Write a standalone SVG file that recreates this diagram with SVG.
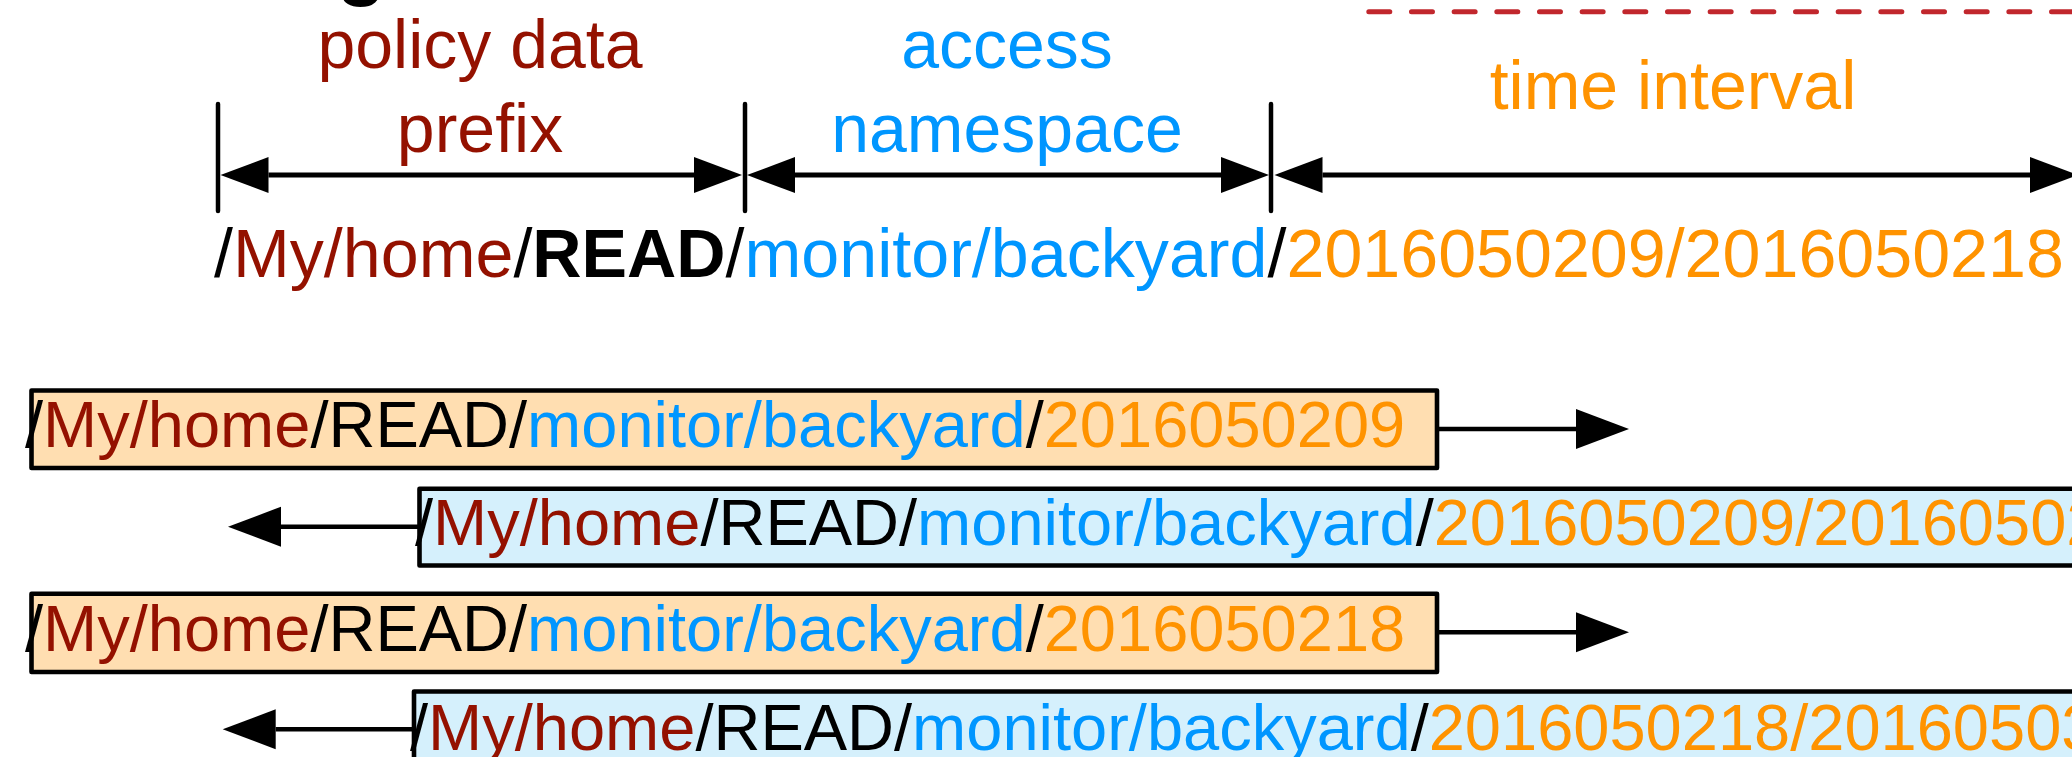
<svg xmlns="http://www.w3.org/2000/svg" width="2072" height="757" viewBox="0 0 2072 757">
  <defs>
    <marker id="dimHead" markerUnits="userSpaceOnUse" markerWidth="48" markerHeight="36" refX="0" refY="18" orient="auto-start-reverse" overflow="visible">
      <path d="M0,0 L48,18 L0,36 Z" fill="#000"/>
    </marker>
    <marker id="flowHead" markerUnits="userSpaceOnUse" markerWidth="53" markerHeight="40" refX="0" refY="20" orient="auto" overflow="visible">
      <path d="M0,0 L53,20 L0,40 Z" fill="#000"/>
    </marker>
    <style>
      text { font-family: "Liberation Sans", Arial, Helvetica, sans-serif; }
      .lbl { font-size: 68px; text-anchor: middle; }
      .path { font-size: 68.2px; }
      .bpath { font-size: 65px; }
      .red { fill: #941100; }
      .blue { fill: #0096FF; }
      .orange { fill: #FF9300; }
      .blk { fill: #000; }
      .tick { stroke: #000; stroke-width: 4.5; stroke-linecap: round; fill: none; }
      .dim { stroke: #000; stroke-width: 5; fill: none; marker-start: url(#dimHead); marker-end: url(#dimHead); }
      .flow { stroke: #000; stroke-width: 4.5; fill: none; marker-end: url(#flowHead); }
      .boxO { fill: #FFDEB1; stroke: #000; stroke-width: 4.6; stroke-linejoin: round; }
      .boxB { fill: #D5F0FC; stroke: #000; stroke-width: 4.6; stroke-linejoin: round; }
      .dash { stroke: #C1272D; stroke-width: 5; stroke-linecap: round; stroke-dasharray: 21 21.67; fill: none; }
    </style>
  </defs>

  <rect x="0" y="0" width="2072" height="757" fill="#fff"/>

  <g id="title-fragment">
    <text x="337" y="-10" style="font-size:80px;font-weight:bold" class="blk">g</text>
  </g>

  <g id="dashed-boundary">
    <line class="dash" x1="1368.8" y1="11.8" x2="2080" y2="11.8"/>
  </g>

  <g id="label-policy">
    <text class="lbl red" x="480" y="68">policy data</text>
    <text class="lbl red" x="480" y="152">prefix</text>
  </g>
  <g id="label-namespace">
    <text class="lbl blue" x="1007" y="68">access</text>
    <text class="lbl blue" x="1007" y="152">namespace</text>
  </g>
  <g id="label-time">
    <text class="lbl orange" x="1673" y="109">time interval</text>
  </g>

  <g id="full-name">
    <text class="path" x="214" y="277"><tspan class="blk">/</tspan><tspan class="red">My/home</tspan><tspan class="blk">/</tspan><tspan class="blk" font-weight="bold">READ</tspan><tspan class="blk">/</tspan><tspan class="blue">monitor/backyard</tspan><tspan class="blk">/</tspan><tspan class="orange">2016050209/2016050218</tspan></text>
  </g>

  <g id="box-interest-1">
    <rect class="boxO" x="31.5" y="390.5" width="1405.5" height="77.5"/>
    <text class="bpath" x="25" y="447"><tspan class="blk">/</tspan><tspan class="red">My/home</tspan><tspan class="blk">/READ/</tspan><tspan class="blue">monitor/backyard</tspan><tspan class="blk">/</tspan><tspan class="orange">2016050209</tspan></text>
  </g>
  <g id="box-data-1">
    <rect class="boxB" x="419.5" y="488.8" width="1800" height="76.7"/>
    <text class="bpath" x="415" y="545"><tspan class="blk">/</tspan><tspan class="red">My/home</tspan><tspan class="blk">/READ/</tspan><tspan class="blue">monitor/backyard</tspan><tspan class="blk">/</tspan><tspan class="orange">2016050209/2016050218</tspan></text>
  </g>
  <g id="box-interest-2">
    <rect class="boxO" x="31.5" y="593.8" width="1405.5" height="78.2"/>
    <text class="bpath" x="25" y="651"><tspan class="blk">/</tspan><tspan class="red">My/home</tspan><tspan class="blk">/READ/</tspan><tspan class="blue">monitor/backyard</tspan><tspan class="blk">/</tspan><tspan class="orange">2016050218</tspan></text>
  </g>
  <g id="box-data-2">
    <rect class="boxB" x="414" y="691.5" width="1800" height="90"/>
    <text class="bpath" x="410" y="750"><tspan class="blk">/</tspan><tspan class="red">My/home</tspan><tspan class="blk">/READ/</tspan><tspan class="blue">monitor/backyard</tspan><tspan class="blk">/</tspan><tspan class="orange">2016050218/20160503</tspan></text>
  </g>

  <g id="connectors">
    <line class="tick" x1="218" y1="104" x2="218" y2="211"/>
    <line class="tick" x1="745" y1="104" x2="745" y2="211"/>
    <line class="tick" x1="1271" y1="104" x2="1271" y2="211"/>
    <line class="dim" x1="268.5" y1="175" x2="694" y2="175"/>
    <line class="dim" x1="795" y1="175" x2="1221" y2="175"/>
    <line class="dim" x1="1322.5" y1="175" x2="2030" y2="175"/>

    <line class="flow" x1="1437" y1="429" x2="1576" y2="429"/>
    <line class="flow" x1="419.5" y1="526.7" x2="281" y2="526.7"/>
    <line class="flow" x1="1437" y1="632.3" x2="1576" y2="632.3"/>
    <line class="flow" x1="414" y1="729.3" x2="275.7" y2="729.3"/>
  </g>
</svg>
